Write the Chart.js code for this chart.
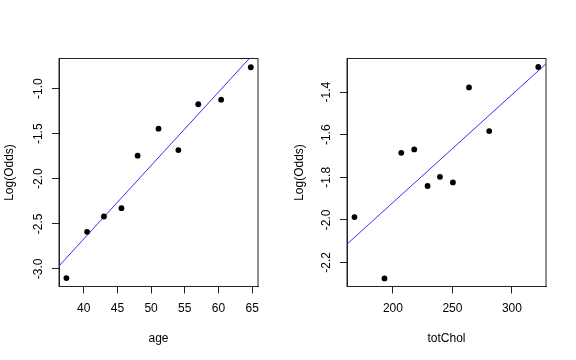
<!DOCTYPE html>
<html>
<head>
<meta charset="utf-8">
<script src="https://cdn.jsdelivr.net/npm/chart.js@4/dist/chart.umd.min.js"></script>
<style>
  html, body { margin: 0; padding: 0; background: #fff; }
  #wrap { position: relative; width: 576px; height: 360px; }
  .panel { position: absolute; top: 0; width: 288px; height: 360px; }
</style>
</head>
<body>
<div id="wrap">
  <div class="panel" style="left:0"><canvas id="c1"></canvas></div>
  <div class="panel" style="left:288px"><canvas id="c2"></canvas></div>
</div>
<script>
// ---- Left panel data: age vs Log(Odds)
const ageValues = [37.43, 40.5, 43.0, 45.6, 48.0, 51.1, 54.05, 57.0, 60.4, 64.8];
const ageLogOdds = [-3.103, -2.589, -2.419, -2.327, -1.744, -1.444, -1.682, -1.173, -1.122, -0.762];
const ageFitX = [36.33, 65.87];
const ageFitY = [-2.968, -0.560];
const ageXRange = [36.33, 65.87];
const ageYRange = [-3.196, -0.665];
const ageXTicks = [40, 45, 50, 55, 60, 65];
const ageXTickLabels = ['40', '45', '50', '55', '60', '65'];
const ageYTicks = [-3.0, -2.5, -2.0, -1.5, -1.0];
const ageYTickLabels = ['-3.0', '-2.5', '-2.0', '-1.5', '-1.0'];

// ---- Right panel data: totChol vs Log(Odds)
const cholValues = [167.7, 192.9, 207.0, 217.9, 229.1, 239.5, 250.4, 263.9, 280.9, 322.1];
const cholLogOdds = [-1.987, -2.275, -1.685, -1.669, -1.841, -1.798, -1.824, -1.378, -1.583, -1.282];
const cholFitX = [161.4, 328.6];
const cholFitY = [-2.114, -1.267];
const cholXRange = [161.4, 328.6];
const cholYRange = [-2.313, -1.242];
const cholXTicks = [200, 250, 300];
const cholXTickLabels = ['200', '250', '300'];
const cholYTicks = [-2.2, -2.0, -1.8, -1.6, -1.4];
const cholYTickLabels = ['-2.2', '-2.0', '-1.8', '-1.6', '-1.4'];

const yTitleText = 'Log(Odds)';
const FONT = "'Liberation Sans', Arial, Helvetica, sans-serif";

const boxPlugin = {
  id: 'rbox',
  afterDraw(chart) {
    const a = chart.chartArea, ctx = chart.ctx;
    ctx.save();
    ctx.strokeStyle = '#222';
    ctx.lineWidth = 1;
    ctx.strokeRect(a.left, a.top, a.right - a.left, a.bottom - a.top);
    ctx.restore();
  }
};

function makePanel(id, xs, ys, fx, fy, xr, yr, xt, xtl, yt, ytl, xTitle, yTitlePad) {
  const pts = xs.map((x, i) => ({x: x, y: ys[i]}));
  const fit = fx.map((x, i) => ({x: x, y: fy[i]}));
  new Chart(document.getElementById(id), {
    type: 'scatter',
    data: {
      datasets: [
        { data: fit, showLine: true, borderColor: 'rgb(50,50,255)', borderWidth: 1,
          pointRadius: 0, fill: false, clip: 0, order: 2 },
        { data: pts, backgroundColor: '#000', borderColor: '#000', borderWidth: 0,
          pointRadius: 2.9, clip: false, order: 1 }
      ]
    },
    options: {
      responsive: false,
      animation: false,
      devicePixelRatio: 1,
      events: [],
      layout: { padding: { left: 0, top: 58.5, right: 30, bottom: 0 } },
      plugins: { legend: { display: false }, tooltip: { enabled: false } },
      scales: {
        x: {
          type: 'linear', position: 'bottom', min: xr[0], max: xr[1],
          afterBuildTicks: s => { s.ticks = xt.map(v => ({value: v})); },
          afterFit: s => { s.height = 73.5; },
          ticks: { font: { family: FONT, size: 12 }, color: '#000', padding: 7.9,
                   callback: (v, i) => xtl[i] },
          grid: { drawOnChartArea: false, drawTicks: true, tickLength: 7, color: '#222', tickWidth: 1 },
          border: { display: true, color: '#222', width: 1 },
          title: { display: true, text: xTitle, color: '#000', font: { family: FONT, size: 12 },
                   padding: { top: 0, bottom: 14.5 } }
        },
        y: {
          type: 'linear', position: 'left', min: yr[0], max: yr[1],
          afterBuildTicks: s => { s.ticks = yt.map(v => ({value: v})); },
          afterFit: s => { s.width = 59; },
          ticks: { font: { family: FONT, size: 12 }, color: '#000', padding: 2.6,
                   minRotation: 90, maxRotation: 90, crossAlign: 'center',
                   callback: (v, i) => ytl[i] },
          grid: { drawOnChartArea: false, drawTicks: true, tickLength: 7, color: '#222', tickWidth: 1 },
          border: { display: true, color: '#222', width: 1 },
          title: { display: true, text: yTitleText, color: '#000', font: { family: FONT, size: 12 },
                   padding: { top: yTitlePad, bottom: 0 } }
        }
      }
    },
    plugins: [boxPlugin]
  });
}

document.getElementById('c1').width = 288; document.getElementById('c1').height = 360;
document.getElementById('c2').width = 288; document.getElementById('c2').height = 360;

makePanel('c1', ageValues, ageLogOdds, ageFitX, ageFitY, ageXRange, ageYRange,
          ageXTicks, ageXTickLabels, ageYTicks, ageYTickLabels, 'age', 2.5);
makePanel('c2', cholValues, cholLogOdds, cholFitX, cholFitY, cholXRange, cholYRange,
          cholXTicks, cholXTickLabels, cholYTicks, cholYTickLabels, 'totChol', 4.5);
</script>
</body>
</html>
